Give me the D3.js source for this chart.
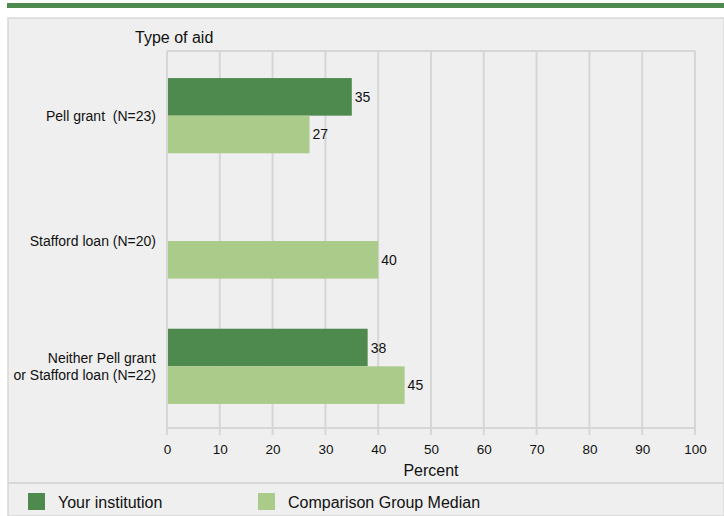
<!DOCTYPE html>
<html>
<head>
<meta charset="utf-8" />
<title>Type of aid</title>
<script src="https://cdn.jsdelivr.net/npm/d3@7"></script>
<style>
    body { margin: 0; background: #fff; }
    text { font-family: "Liberation Sans", Arial, sans-serif; fill: #111; white-space: pre; }
</style>
</head>
<body>
<div id="chart"></div>
<script>
// data
var categories = ["Pell grant  (N=23)", "Stafford loan (N=20)", "Neither Pell grant|or Stafford loan (N=22)"];
var seriesNames = ["Your institution", "Comparison Group Median"];
var yourInstitution = [35, null, 38];
var comparisonMedian = [27, 40, 45];
var tickValues = [0, 10, 20, 30, 40, 50, 60, 70, 80, 90, 100];

var W = 724, H = 516;
var dark = "#4e8a4e", light = "#aacb89", grid = "#d6d6d6";

var svg = d3.select("#chart").append("svg").attr("width", W).attr("height", H);

// top stripe and panel
svg.append("rect").attr("x", 7).attr("y", 3).attr("width", W - 7).attr("height", 5).attr("fill", dark);
svg.append("rect").attr("x", 8).attr("y", 18).attr("width", W - 8).attr("height", H - 18)
    .attr("fill", "#efefef").attr("stroke", "#d8d8d8").attr("stroke-width", 1.5);
svg.append("line").attr("x1", 8).attr("x2", W).attr("y1", 483).attr("y2", 483)
    .attr("stroke", "#d8d8d8").attr("stroke-width", 2);

var x = d3.scaleLinear().domain([0, 100]).range([167, 695]);
var y = d3.scaleBand().domain(categories).range([53, 429]).paddingInner(0.4).paddingOuter(0.2);
var sub = d3.scaleBand().domain(seriesNames).range([0, y.bandwidth()]);

// grid
svg.selectAll(".grid").data(tickValues).enter().append("line")
    .attr("x1", d => x(d)).attr("x2", d => x(d))
    .attr("y1", 51).attr("y2", 435)
    .attr("stroke", grid).attr("stroke-width", 2);
svg.append("line").attr("x1", x(0)).attr("x2", x(100)).attr("y1", 51).attr("y2", 51)
    .attr("stroke", grid).attr("stroke-width", 2);
svg.append("line").attr("x1", x(0)).attr("x2", x(100)).attr("y1", 428).attr("y2", 428)
    .attr("stroke", grid).attr("stroke-width", 2);

// axis labels
var xAxis = d3.axisBottom(x).tickValues(tickValues).tickSize(0).tickPadding(16);
var gx = svg.append("g").attr("transform", "translate(0,428)").call(xAxis);
gx.select(".domain").remove();
gx.selectAll("text").style("font-size", "13.5px").style("font-family", "Liberation Sans, Arial, sans-serif").attr("fill", "#111");

svg.append("text").attr("x", x(50)).attr("y", 476).attr("text-anchor", "middle")
    .style("font-size", "16px").text("Percent");
svg.append("text").attr("x", 135).attr("y", 43).style("font-size", "16px").text("Type of aid");

// category labels
categories.forEach(function (c) {
    var lines = c.split("|");
    var cy = y(c) + y.bandwidth() / 2;
    var t = svg.append("text").attr("text-anchor", "end").style("font-size", "14px");
    lines.forEach(function (l, i) {
        t.append("tspan").attr("x", 156)
            .attr("y", cy + 5 + (i - (lines.length - 1) / 2) * 17)
            .text(l);
    });
});

// bars
var seriesData = [yourInstitution, comparisonMedian];
var colors = [dark, light];
seriesData.forEach(function (vals, si) {
    var rows = categories.map(function (c, i) { return { cat: c, v: vals[i] }; })
        .filter(function (d) { return d.v !== null; });
    var g = svg.append("g");
    g.selectAll("rect").data(rows).enter().append("rect")
        .attr("x", x(0) + 1)
        .attr("y", d => y(d.cat) + sub(seriesNames[si]))
        .attr("width", d => x(d.v) - x(0) - 1)
        .attr("height", sub.bandwidth())
        .attr("fill", colors[si]);
    g.selectAll("text").data(rows).enter().append("text")
        .attr("x", d => x(d.v) + 3)
        .attr("y", d => y(d.cat) + sub(seriesNames[si]) + sub.bandwidth() / 2 + 5)
        .style("font-size", "14px")
        .text(d => d.v);
});

// legend
var legendX = [28, 258];
seriesNames.forEach(function (s, i) {
    svg.append("rect").attr("x", legendX[i]).attr("y", 493).attr("width", 17).attr("height", 17).attr("fill", colors[i]);
    svg.append("text").attr("x", legendX[i] + 30).attr("y", 508).style("font-size", "16px").text(s);
});
</script>
</body>
</html>
